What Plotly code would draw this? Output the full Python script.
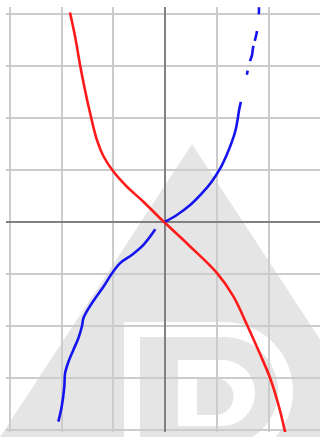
import numpy as np
import plotly.graph_objects as go

# Red curve (decreasing, passes through the origin)
red_x = [-1.84, -1.74, -1.645, -1.55, -1.45, -1.32, -1.19, -1.0, -0.74, -0.42, -0.064,
         0.0, 0.484, 1.0, 1.32, 1.58, 1.84, 2.03, 2.19, 2.34]
red_y = [4.03, 3.56, 3.02, 2.54, 2.09, 1.58, 1.26, 0.97, 0.68, 0.39, 0.04,
         -0.02, -0.47, -0.98, -1.43, -1.97, -2.55, -3.0, -3.51, -4.12]

# Blue curve, lower branch
blue_lo_x = [-2.065, -2.0, -1.95, -1.935, -1.87, -1.775, -1.68, -1.61, -1.58, -1.48,
             -1.355, -1.19, -1.03, -0.87, -0.645, -0.42, -0.19]
blue_lo_y = [-3.84, -3.55, -3.17, -2.91, -2.69, -2.46, -2.24, -2.01, -1.85, -1.66,
             -1.47, -1.24, -0.99, -0.79, -0.635, -0.44, -0.14]

# Blue curve, upper branch (solid part)
blue_up_x = [0.0, 0.226, 0.484, 0.71, 0.90, 1.065, 1.19, 1.29, 1.355, 1.40, 1.43, 1.465]
blue_up_y = [0.006, 0.135, 0.327, 0.55, 0.775, 1.03, 1.29, 1.54, 1.74, 1.96, 2.15, 2.31]

# Blue curve, upper branch (broken part)
blue_tip_x = [1.58, 1.63, 1.68, 1.70, 1.775, 1.81, 1.815]
blue_tip_y = [2.83, 3.06, 3.21, 3.35, 3.66, 3.96, 4.13]

W, H = 320, 437
ML, MR, MT, MB = 6, 0, 7, 5


def to_paper(px, py):
    return (px - ML) / (W - ML - MR), (H - MB - py) / (H - MT - MB)


def arc(cx, cy, r, a0, a1, n=40):
    t = np.radians(np.linspace(a0, a1, n))
    return list(zip(cx + r * np.cos(t), cy + r * np.sin(t)))


def path(points):
    pts = [to_paper(x, y) for x, y in points]
    return "M" + " L".join(f"{x:.4f},{y:.4f}" for x, y in pts) + " Z"


def d_shape(left, top, cx, cy, r, bottom):
    return [(left, bottom), (left, top), (cx, top)] + arc(cx, cy, r, -90, 90) + [(left, bottom)]


mark_gray = "#e5e5e5"
shapes = [
    dict(type="path", path=path([(192, 144), (384, 437), (0, 437)])),
    dict(type="path", path=path(d_shape(124, 322, 224, 391, 69, 460)), fc="white"),
    dict(type="path", path=path(d_shape(140, 337, 224, 391, 54, 445)), fc=mark_gray),
    dict(type="path", path=path(d_shape(178, 360, 222, 393, 33, 426)), fc="white"),
    dict(type="path", path=path([(197, 378), (215, 378)] + arc(215, 396.5, 18.5, -90, 90) + [(197, 415)]),
         fc=mark_gray),
]
layout_shapes = []
for s in shapes:
    layout_shapes.append(dict(type="path", path=s["path"], xref="paper", yref="paper",
                              fillcolor=s.get("fc", mark_gray), line=dict(width=0), layer="below"))

fig = go.Figure()
fig.add_trace(go.Scatter(x=red_x, y=red_y, mode="lines",
                         line=dict(color="#ff1a1a", width=2.6, shape="spline")))
fig.add_trace(go.Scatter(x=blue_lo_x, y=blue_lo_y, mode="lines",
                         line=dict(color="#1414f0", width=2.6, shape="spline")))
fig.add_trace(go.Scatter(x=blue_up_x, y=blue_up_y, mode="lines",
                         line=dict(color="#1414f0", width=2.6, shape="spline")))
fig.add_trace(go.Scatter(x=blue_tip_x, y=blue_tip_y, mode="lines",
                         line=dict(color="#1414f0", width=2.6, shape="spline",
                                   dash="4px,10px,16px,5px,10px,17px,8px,20px")))

axis_common = dict(dtick=1, tick0=0, showticklabels=False, ticks="", showline=False,
                   showgrid=True, gridcolor="#cccccc", gridwidth=1.5,
                   zeroline=True, zerolinecolor="#808080", zerolinewidth=1.5, fixedrange=True)
fig.update_xaxes(range=[(ML - 165) / 51.667, 2.995], **axis_common)
fig.update_yaxes(range=[(H - MB - 222) / -52.0, (222 - MT) / 52.0], **axis_common)

fig.update_layout(width=W, height=H, margin=dict(l=ML, r=MR, t=MT, b=MB),
                  paper_bgcolor="white", plot_bgcolor="rgba(0,0,0,0)",
                  showlegend=False, shapes=layout_shapes)
fig.write_html("out.html")
